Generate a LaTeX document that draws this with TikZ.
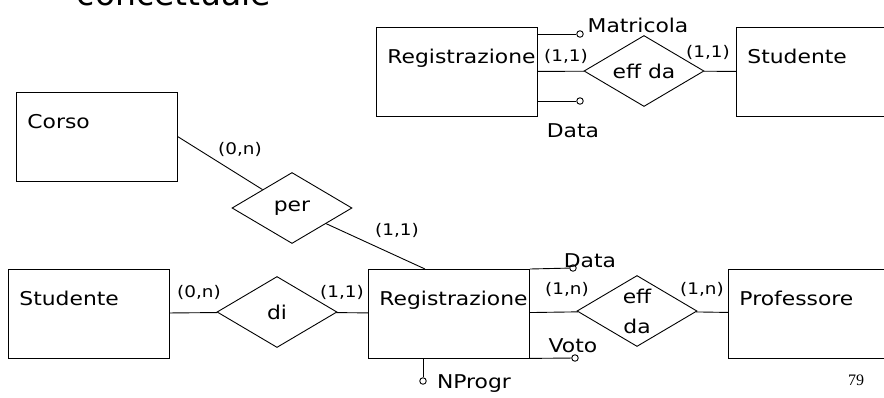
\documentclass[tikz,border=0pt]{standalone}
\usepackage{fontspec}
\setmainfont{DejaVu Sans}[FakeStretch=1.15]
\newfontfamily\titlefont{DejaVu Sans}
\newfontfamily\numfont{Liberation Serif}
\usetikzlibrary{positioning,shapes.geometric}
\hyphenpenalty=10000

\begin{document}
\begin{tikzpicture}[x=1pt,y=-1pt,line width=0.9pt,
            every node/.style={font=\fontsize{19}{22}\selectfont},
            entity/.style={rectangle,draw,anchor=north west,minimum width=161pt,
                text width=139pt,align=left,inner xsep=11pt,inner ysep=0pt,
                text height=36pt,text depth=52.5pt},
            relation/.style={diamond,draw,shape aspect=1.69,minimum width=120pt,
                minimum height=71pt,inner sep=0pt},
            attr/.style={circle,draw,inner sep=0pt,minimum size=6.5pt},
            lbl/.style={anchor=base,inner sep=0pt},
            card/.style={font=\fontsize{16}{18}\selectfont,inner sep=0pt}
        ]
            \useasboundingbox (0,0) rectangle (884,397);
            \clip (0,0) rectangle (884,397);
            \node[font=\titlefont\fontsize{33}{36}\selectfont,anchor=south,inner sep=0pt] (titolo) at (174,6) {concettuale};
            % entita'
            \node[entity] (regtop) at (376,27) {Registrazione};
            \node[entity] (studtop) at (736,27) {Studente};
            \node[entity] (corso) at (16,92) {Corso};
            \node[entity] (stud) at (8,269) {Studente};
            \node[entity] (reg) at (368,269) {Registrazione};
            \node[entity] (prof) at (728,269) {Professore};
            % relazioni
            \node[relation] (efftop) at (644,71) {eff da};
            \node[relation] (per) at (292,208) {per};
            \node[relation] (di) at (277,312) {di};
            \node[relation,align=center,font=\fontsize{19}{30}\selectfont] (eff) at (637,311) {eff\\da};
            % attributi
            \node[attr] (matricola) at (580,34) {};
            \node[attr] (datatop) at (580,101) {};
            \node[attr] (data) at (573,268) {};
            \node[attr] (voto) at (575,358) {};
            \node[attr] (nprogr) at (423,381) {};
            \node[lbl] (lmatricola) at (638,32) {Matricola};
            \node[lbl] (ldatatop) at (573,137) {Data};
            \node[lbl] (ldata) at (590,267) {Data};
            \node[lbl] (lvoto) at (573,352) {Voto};
            \node[lbl] (lnprogr) at (474,388) {NProgr};
            \draw (regtop) -- (efftop);
            \draw (efftop) -- (studtop);
            \draw (corso.east) -- (per);
            \draw (per) -- ([xshift=57pt]reg.north west);
            \draw (stud) -- (di);
            \draw (di) -- (reg);
            \draw (reg) -- (eff);
            \draw (eff) -- (prof);
            \draw (regtop.east |- matricola) -- (matricola);
            \draw (regtop.east |- datatop) -- (datatop);
            \draw (reg.north east) -- (data);
            \draw (reg.south east) -- (voto);
            \draw (nprogr) -- (nprogr |- reg.south);
            % cardinalita'
            \node[card] (c1) at (566,56) {(1,1)};
            \node[card] (c2) at (708,52) {(1,1)};
            \node[card] (c3) at (240,149) {(0,n)};
            \node[card] (c4) at (397,230) {(1,1)};
            \node[card] (c5) at (199,292) {(0,n)};
            \node[card] (c6) at (342,292) {(1,1)};
            \node[card] (c7) at (567,289) {(1,n)};
            \node[card] (c8) at (702,289) {(1,n)};
            \node[font=\numfont\fontsize{16}{18}\selectfont] (pagina) at (856,380) {79};
        \end{tikzpicture}
\end{document}
